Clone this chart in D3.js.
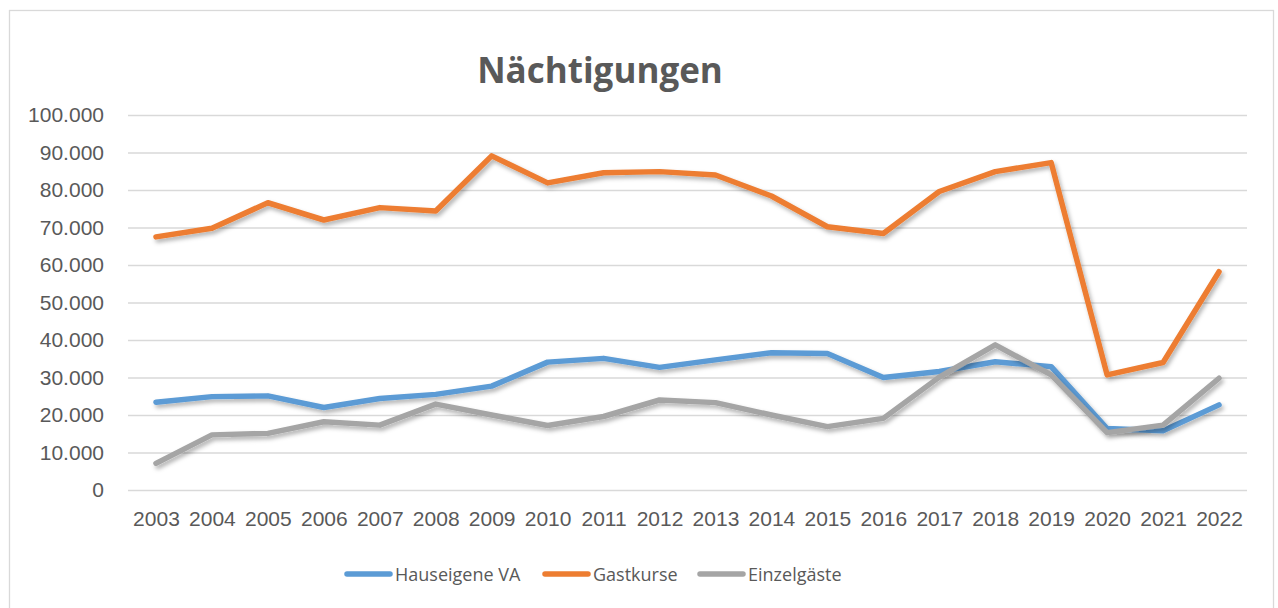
<!DOCTYPE html>
<html>
<head>
<meta charset="utf-8">
<script src="https://cdn.jsdelivr.net/npm/d3@7"></script>
<style>
  body { margin: 0; background: #fff; }
  svg { display: block; font-family: "Open Sans", sans-serif; }
</style>
</head>
<body>
<script>
// chart data
var years = ["2003","2004","2005","2006","2007","2008","2009","2010","2011","2012",
             "2013","2014","2015","2016","2017","2018","2019","2020","2021","2022"];
var hauseigene = [23400, 24900, 25100, 22000, 24400, 25500, 27700, 34100, 35100, 32700,
                  34700, 36600, 36400, 30000, 31600, 34200, 32900, 16400, 15800, 22700];
var gastkurse = [67500, 69800, 76600, 72000, 75300, 74400, 89100, 81900, 84600, 84900,
                 84000, 78400, 70200, 68400, 79600, 84900, 87300, 30700, 34000, 58200];
var einzelgaeste = [7100, 14700, 15100, 18200, 17300, 22900, 20000, 17200, 19600, 24000,
                    23300, 20000, 16900, 19100, 30100, 38700, 30700, 15300, 17300, 29800];
var yTicks = [0, 10000, 20000, 30000, 40000, 50000, 60000, 70000, 80000, 90000, 100000];
var seriesNames = ["Hauseigene VA", "Gastkurse", "Einzelgäste"];
var seriesColors = ["#5b9bd5", "#ed7d31", "#a5a5a5"];

const w = 1278;
const h = 608;
const textColor = "#595959";

var series = [hauseigene, gastkurse, einzelgaeste].map((vals, i) => ({
    name: seriesNames[i],
    color: seriesColors[i],
    values: vals
}));

const de = d3.formatLocale({decimal: ",", thousands: ".", grouping: [3], currency: ["", " €"]});
const fmt = de.format(",.0f");

const svg = d3.select("body")
    .append("svg")
    .attr("width", w)
    .attr("height", h);

// soft shadow like the office chart
const defs = svg.append("defs");
defs.append("filter")
    .attr("id", "shadow")
    .attr("x", "-5%").attr("y", "-20%")
    .attr("width", "110%").attr("height", "140%")
    .append("feDropShadow")
    .attr("dx", 2).attr("dy", 3)
    .attr("stdDeviation", 2)
    .attr("flood-color", "#000")
    .attr("flood-opacity", 0.3);

// outer frame
svg.append("rect")
    .attr("x", 9.5).attr("y", 10.5)
    .attr("width", 1264).attr("height", 640)
    .attr("fill", "#fff")
    .attr("stroke", "#d9d9d9")
    .attr("stroke-width", 1.3);

const x = d3.scalePoint()
    .domain(years)
    .range([128, 1247])
    .padding(0.5);

const y = d3.scaleLinear()
    .domain([0, 100000])
    .range([490, 115]);

// gridlines + y labels
const yAxis = svg.append("g")
    .attr("transform", "translate(128,0)")
    .call(d3.axisLeft(y).tickValues(yTicks).tickFormat(fmt).tickSize(-(1247 - 128)).tickPadding(24));
yAxis.select(".domain").remove();
yAxis.selectAll(".tick line")
    .attr("stroke", "#d9d9d9")
    .attr("stroke-width", 1.5);
yAxis.selectAll(".tick text")
    .attr("fill", textColor)
    .style("font-size", "21px");

// x labels
const xAxis = svg.append("g")
    .attr("transform", "translate(0,490)")
    .call(d3.axisBottom(x).tickSize(0).tickPadding(21));
xAxis.select(".domain").remove();
xAxis.selectAll(".tick text")
    .attr("fill", textColor)
    .style("font-size", "21px");

// lines
const line = d3.line()
    .x((d, i) => x(years[i]))
    .y(d => y(d));

svg.append("g")
    .selectAll("path")
    .data(series)
    .enter()
    .append("path")
    .attr("d", d => line(d.values))
    .attr("fill", "none")
    .attr("stroke", d => d.color)
    .attr("stroke-width", 5.5)
    .attr("stroke-linejoin", "round")
    .attr("stroke-linecap", "round")
    .attr("filter", "url(#shadow)");

// title
svg.append("text")
    .attr("x", 600)
    .attr("y", 83)
    .attr("text-anchor", "middle")
    .attr("fill", textColor)
    .style("font-size", "35px")
    .style("font-weight", "bold")
    .text("Nächtigungen");

// legend
var legendX = [345, 543, 698];
const legend = svg.append("g")
    .selectAll("g")
    .data(series)
    .enter()
    .append("g")
    .attr("transform", (d, i) => "translate(" + legendX[i] + ",574)");

legend.append("line")
    .attr("x1", 2).attr("x2", 45)
    .attr("stroke", d => d.color)
    .attr("stroke-width", 5.5)
    .attr("stroke-linecap", "round");

legend.append("text")
    .attr("x", 50)
    .attr("y", 7)
    .attr("fill", textColor)
    .style("font-size", "18px")
    .text(d => d.name);
</script>
</body>
</html>
